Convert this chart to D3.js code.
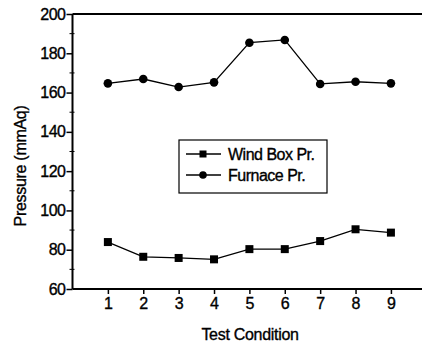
<!DOCTYPE html>
<html><head><meta charset="utf-8">
<script src="https://cdn.jsdelivr.net/npm/d3@7"></script>
<style>body{margin:0;background:#fff}svg{display:block}text{font-family:"Liberation Sans",Arial,sans-serif;fill:#000;stroke:#000;stroke-width:0.35px}</style>
</head><body>
<script>
const conditions = [1,2,3,4,5,6,7,8,9];
const windBox = [83.9,76.4,75.8,75.1,80.3,80.3,84.4,90.4,88.7];
const furnace = [164.7,166.9,162.8,165.2,185.4,186.8,164.4,165.5,164.7];
const yTicks = [60,80,100,120,140,160,180,200];
const yMinor = [70,90,110,130,150,170,190];
const seriesNames = ["Wind Box Pr.","Furnace Pr."];

const W=422,H=343;
const svg=d3.select("body").append("svg").attr("width",W).attr("height",H);
const x=d3.scaleLinear().domain([0,10]).range([72.5,426.3]);
const y=d3.scaleLinear().domain([60,200]).range([289,14]);

// top frame line
svg.append("line").attr("x1",72.5).attr("x2",W).attr("y1",y(200)).attr("y2",y(200)).attr("stroke","#000").attr("stroke-width",2);

// x axis
const xa=svg.append("g").attr("transform",`translate(0,${y(60)})`)
 .call(d3.axisBottom(x).tickValues(conditions).tickSize(5).tickPadding(4).tickFormat(d3.format("d")));
xa.select(".domain").remove();
xa.append("line").attr("x1",72.5).attr("x2",W).attr("stroke","#000").attr("stroke-width",2);
xa.selectAll(".tick line").attr("stroke-width",1.5);
xa.selectAll("text").attr("font-size",16).attr("dy","0.71em");

// y axis
const ya=svg.append("g").attr("transform",`translate(${x(0)},0)`)
 .call(d3.axisLeft(y).tickValues(yTicks).tickSize(6).tickPadding(1));
ya.select(".domain").attr("stroke-width",2).attr("d",`M0,${y(60)}V${y(200)}`);
ya.selectAll(".tick line").attr("stroke-width",1.5);
ya.selectAll("text").attr("font-size",16).attr("letter-spacing","-0.5");
ya.selectAll(".minor").data(yMinor).enter().append("line").attr("class","minor")
 .attr("x1",-3).attr("x2",2).attr("y1",d=>y(d)).attr("y2",d=>y(d)).attr("stroke","#000");

// axis titles
svg.append("text").attr("x",250).attr("y",340).attr("text-anchor","middle").attr("font-size",16).attr("letter-spacing","-0.3").text("Test Condition");
svg.append("text").attr("transform","translate(26,166) rotate(-90)").attr("text-anchor","middle").attr("font-size",16).attr("letter-spacing","-0.3").text("Pressure (mmAq)");

const line=d3.line().x((d,i)=>x(conditions[i])).y(d=>y(d));
[windBox,furnace].forEach((s,k)=>{
  svg.append("path").attr("d",line(s)).attr("fill","none").attr("stroke","#000").attr("stroke-width",1.3);
  const g=svg.append("g");
  if(k===0){
    g.selectAll("rect").data(s).enter().append("rect")
     .attr("x",(d,i)=>x(conditions[i])-4).attr("y",d=>y(d)-4).attr("width",8).attr("height",8).attr("fill","#000");
  } else {
    g.selectAll("circle").data(s).enter().append("circle")
     .attr("cx",(d,i)=>x(conditions[i])).attr("cy",d=>y(d)).attr("r",4.3).attr("fill","#000");
  }
});

// legend
const lg=svg.append("g");
lg.append("rect").attr("x",179).attr("y",140).attr("width",148).attr("height",53).attr("fill","#fff").attr("stroke","#000").attr("stroke-width",1.2);
seriesNames.forEach((n,i)=>{
  const cy=154+i*21;
  lg.append("line").attr("x1",186).attr("x2",221).attr("y1",cy).attr("y2",cy).attr("stroke","#000").attr("stroke-width",1.3);
  if(i===0) lg.append("rect").attr("x",199.5).attr("y",cy-3.5).attr("width",7).attr("height",7).attr("fill","#000");
  else lg.append("circle").attr("cx",203).attr("cy",cy).attr("r",3.8).attr("fill","#000");
  lg.append("text").attr("x",228).attr("y",cy).attr("dy","0.35em").attr("font-size",16).attr("letter-spacing","-0.5").text(n);
});
</script>
</body></html>
